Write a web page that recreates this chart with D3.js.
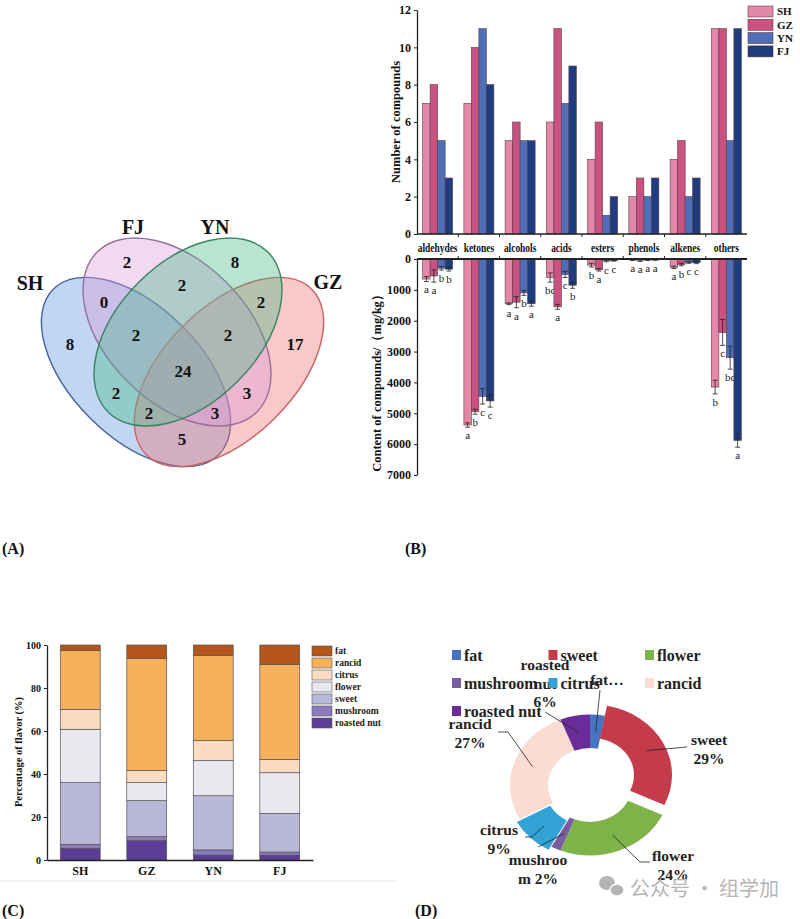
<!DOCTYPE html>
<meta charset="utf-8">
<style>
body { margin: 0; background: #fff; }
svg { display: block; font-family: 'Liberation Serif', 'Times New Roman', serif; }
</style>
<svg width="800" height="919"></svg>
<script src="https://d3js.org/d3.v7.min.js"></script>
<script>
// ---------- data ----------
// (A) venn
var vennSets = ["SH", "FJ", "YN", "GZ"];
var vennRegions = ["SH", "FJ", "YN", "GZ", "SH&FJ", "FJ&YN", "YN&GZ", "SH&FJ&YN", "FJ&YN&GZ",
                   "SH&FJ&YN&GZ", "SH&YN", "FJ&GZ", "SH&YN&GZ", "SH&FJ&GZ", "SH&GZ"];
var vennCounts = [8, 2, 8, 17, 0, 2, 2, 2, 2, 24, 2, 3, 2, 3, 5];

// (B) compound classes
var compoundClasses = ["aldehydes", "ketones", "alcohols", "acids", "esters", "phenols", "alkenes", "others"];
var regions = ["SH", "GZ", "YN", "FJ"];
var countSH = [7, 7, 5, 6, 4, 2, 4, 11];
var countGZ = [8, 10, 6, 11, 6, 3, 5, 11];
var countYN = [5, 11, 5, 7, 1, 2, 2, 5];
var countFJ = [3, 8, 5, 9, 2, 3, 3, 11];
var contentSH = [650, 5380, 1450, 600, 200, 30, 270, 4150];
var contentGZ = [550, 4950, 1400, 1550, 350, 40, 180, 2380];
var contentYN = [300, 4450, 1100, 500, 60, 30, 110, 3200];
var contentFJ = [330, 4600, 1450, 850, 50, 30, 120, 5880];
var errSH = [80, 70, 30, 150, 60, 20, 40, 220];
var errGZ = [200, 80, 180, 80, 40, 40, 40, 420];
var errYN = [60, 250, 80, 100, 30, 20, 30, 370];
var errFJ = [60, 200, 80, 100, 20, 10, 30, 220];
var letterSH = ["a", "a", "a", "bc", "b", "a", "a", "b"];
var letterGZ = ["a", "b", "a", "a", "a", "a", "b", "c"];
var letterYN = ["b", "c", "b", "c", "c", "a", "c", "bc"];
var letterFJ = ["b", "c", "a", "b", "c", "a", "c", "a"];
var countTicks = [0, 2, 4, 6, 8, 10, 12];
var contentTicks = [0, 1000, 2000, 3000, 4000, 5000, 6000, 7000];

// (C) flavour percentages, bottom to top
var flavorSamples = ["SH", "GZ", "YN", "FJ"];
var flavorKeys = ["roasted nut", "mushroom", "sweet", "flower", "citrus", "rancid", "fat"];
var roastedNut = [5.4, 9.0, 2.3, 2.3];
var mushroom = [1.9, 1.9, 2.4, 1.4];
var sweet = [28.7, 16.7, 25.2, 18.0];
var flower = [24.8, 8.4, 16.3, 18.9];
var citrus = [9.2, 5.6, 9.3, 6.2];
var rancid = [27.4, 52.2, 39.7, 44.2];
var fat = [2.6, 6.2, 4.8, 9.0];
var percentTicks = [0, 20, 40, 60, 80, 100];

// (D) donut
var pieLabels = ["fat", "sweet", "flower", "mushroom", "citrus", "rancid", "roasted nut"];
var pieValues = [3, 29, 24, 2, 9, 27, 6];
var pieTexts = [["fat…"], ["sweet", "29%"], ["flower", "24%"], ["mushroo", "m 2%"],
                ["citrus", "9%"], ["rancid", "27%"], ["roasted", "nut", "6%"]];

// ---------- page ----------
var svg = d3.select("svg");
svg.append("rect").attr("width", 800).attr("height", 919).attr("fill", "#fff");

function panelLabel(txt, x, y) {
  svg.append("text").attr("x", x).attr("y", y).attr("font-size", 16)
    .attr("font-weight", "bold").attr("fill", "#111").text(txt);
}
panelLabel("(A)", 2, 554);
panelLabel("(B)", 405, 554);
panelLabel("(C)", 2, 916);
panelLabel("(D)", 415, 916);

// ---------- (A) venn ----------
var vennStyle = {
  SH: { fill: "#5f92e0", stroke: "#44649e", shape: [136, 372, 117, 65, 45],  label: [30, 290] },
  FJ: { fill: "#d99ad9", stroke: "#98709a", shape: [177, 332, 113, 70, 45],  label: [133, 234] },
  YN: { fill: "#46b888", stroke: "#3a8464", shape: [188, 332, 113, 70, -45], label: [215, 234] },
  GZ: { fill: "#ef6e6e", stroke: "#cc6060", shape: [229, 372, 117, 65, -45], label: [328, 289] }
};
var vennLabelPos = [[70, 344], [127, 262], [235, 262], [295, 344], [104, 302], [182, 285], [261, 302],
                    [136, 335], [228, 335], [183, 371], [116, 393], [247, 393], [149, 413], [215, 413], [182, 439]];

var gA = svg.append("g");
gA.selectAll("ellipse")
    .data(["SH", "GZ", "FJ", "YN"])
  .enter().append("ellipse")
    .attr("rx", function(d) { return vennStyle[d].shape[2]; })
    .attr("ry", function(d) { return vennStyle[d].shape[3]; })
    .attr("transform", function(d) {
      var s = vennStyle[d].shape;
      return "translate(" + s[0] + "," + s[1] + ") rotate(" + s[4] + ")";
    })
    .attr("fill", function(d) { return vennStyle[d].fill; })
    .attr("fill-opacity", 0.38)
    .attr("stroke", function(d) { return vennStyle[d].stroke; })
    .attr("stroke-width", 1.4);

gA.selectAll("text.cnt")
    .data(vennCounts)
  .enter().append("text")
    .attr("class", "cnt")
    .attr("x", function(d, i) { return vennLabelPos[i][0]; })
    .attr("y", function(d, i) { return vennLabelPos[i][1]; })
    .attr("dy", "0.35em")
    .attr("text-anchor", "middle")
    .attr("font-size", 17).attr("font-weight", "bold").attr("fill", "#111")
    .text(function(d) { return d; });

gA.selectAll("text.set")
    .data(vennSets)
  .enter().append("text")
    .attr("class", "set")
    .attr("x", function(d) { return vennStyle[d].label[0]; })
    .attr("y", function(d) { return vennStyle[d].label[1]; })
    .attr("text-anchor", "middle")
    .attr("font-size", 20).attr("font-weight", "bold").attr("fill", "#111")
    .text(function(d) { return d; });

// ---------- (B) bars ----------
var countBy = { SH: countSH, GZ: countGZ, YN: countYN, FJ: countFJ };
var contentBy = { SH: contentSH, GZ: contentGZ, YN: contentYN, FJ: contentFJ };
var errBy = { SH: errSH, GZ: errGZ, YN: errYN, FJ: errFJ };
var letterBy = { SH: letterSH, GZ: letterGZ, YN: letterYN, FJ: letterFJ };
var barColor = { SH: "#e488a9", GZ: "#c9527f", YN: "#4e6eb8", FJ: "#1d3d7e" };

var xB = d3.scaleBand().domain(compoundClasses).range([417, 747]);
var xSub = d3.scaleBand().domain(regions).range([0, xB.bandwidth()]).paddingOuter(0.75);
var yTop = d3.scaleLinear().domain([0, 12]).range([234, 10]);
var yBot = d3.scaleLinear().domain([0, 7000]).range([259, 475]);

var gB = svg.append("g");

var topGroups = gB.selectAll("g.top")
    .data(compoundClasses)
  .enter().append("g")
    .attr("class", "top")
    .attr("transform", function(d) { return "translate(" + xB(d) + ",0)"; });

topGroups.selectAll("rect")
    .data(function(c, i) { return regions.map(function(r) { return { r: r, v: countBy[r][i] }; }); })
  .enter().append("rect")
    .attr("x", function(d) { return xSub(d.r); })
    .attr("width", xSub.bandwidth())
    .attr("y", function(d) { return yTop(d.v); })
    .attr("height", function(d) { return yTop(0) - yTop(d.v); })
    .attr("fill", function(d) { return barColor[d.r]; })
    .attr("stroke", "#5a3a4a").attr("stroke-width", 0.6);

var botGroups = gB.selectAll("g.bot")
    .data(compoundClasses)
  .enter().append("g")
    .attr("class", "bot")
    .attr("transform", function(d) { return "translate(" + xB(d) + ",0)"; });

var botItems = botGroups.selectAll("g")
    .data(function(c, i) {
      return regions.map(function(r) {
        return { r: r, v: contentBy[r][i], e: errBy[r][i], l: letterBy[r][i] };
      });
    })
  .enter().append("g");

botItems.append("rect")
    .attr("x", function(d) { return xSub(d.r); })
    .attr("width", xSub.bandwidth())
    .attr("y", yBot(0))
    .attr("height", function(d) { return yBot(d.v) - yBot(0); })
    .attr("fill", function(d) { return barColor[d.r]; })
    .attr("stroke", "#5a3a4a").attr("stroke-width", 0.6);

botItems.append("path")
    .attr("d", function(d) {
      var cx = xSub(d.r) + xSub.bandwidth() / 2,
          y1 = yBot(Math.max(d.v - d.e, 0)), y2 = yBot(d.v + d.e);
      return "M" + cx + "," + y1 + "V" + y2 +
             "M" + (cx - 2.5) + "," + y1 + "h5" +
             "M" + (cx - 2.5) + "," + y2 + "h5";
    })
    .attr("stroke", "#222").attr("stroke-width", 0.8).attr("fill", "none");

botItems.append("text")
    .attr("x", function(d) { return xSub(d.r) + xSub.bandwidth() / 2; })
    .attr("y", function(d) { return yBot(d.v + d.e) + 8; })
    .attr("dy", "0.35em")
    .attr("text-anchor", "middle")
    .attr("font-size", 11).attr("fill", "#222")
    .text(function(d) { return d.l; });

function styleAxis(g, size) {
  g.attr("font-family", null).attr("font-size", null);
  g.selectAll("text").attr("font-size", size).attr("font-weight", "bold").attr("fill", "#111");
  g.selectAll("path.domain").attr("stroke", "#222").attr("stroke-width", 1.3);
  g.selectAll("line").attr("stroke", "#222");
}

gB.append("g").attr("transform", "translate(417,0)")
  .call(d3.axisLeft(yTop).tickValues(countTicks).tickSize(3).tickPadding(3).tickSizeOuter(0))
  .call(styleAxis, 12);
gB.append("g").attr("transform", "translate(417,0)")
  .call(d3.axisLeft(yBot).tickValues(contentTicks).tickFormat(d3.format("d"))
          .tickSize(3).tickPadding(3).tickSizeOuter(0))
  .call(styleAxis, 12);

// horizontal base lines with group-boundary ticks
[[234, 1], [259, -1]].forEach(function(p) {
  gB.append("line").attr("x1", 417).attr("x2", 747).attr("y1", p[0]).attr("y2", p[0])
    .attr("stroke", "#222").attr("stroke-width", p[1] > 0 ? 1.3 : 2);
  gB.selectAll(null)
      .data(compoundClasses.slice(1))
    .enter().append("line")
      .attr("x1", function(d) { return xB(d); })
      .attr("x2", function(d) { return xB(d); })
      .attr("y1", p[0]).attr("y2", p[0] + 3 * p[1])
      .attr("stroke", "#222");
});

gB.selectAll("text.cat")
    .data(compoundClasses)
  .enter().append("text")
    .attr("class", "cat")
    .attr("x", function(d) { return xB(d) + xB.bandwidth() / 2; })
    .attr("y", 252)
    .attr("text-anchor", "middle")
    .attr("font-size", 11.5).attr("font-weight", "bold").attr("fill", "#111")
    .text(function(d) { return d; })
    .each(function() {
      // the source typesetting is condensed
      var w = this.getComputedTextLength();
      d3.select(this).attr("textLength", w * 0.82).attr("lengthAdjust", "spacingAndGlyphs");
    });

gB.append("text")
    .attr("transform", "translate(400,122) rotate(-90)")
    .attr("text-anchor", "middle")
    .attr("font-size", 12.5).attr("font-weight", "bold").attr("fill", "#111")
    .text("Number of compounds");
gB.append("text")
    .attr("transform", "translate(381,380) rotate(-90)")
    .attr("text-anchor", "middle")
    .attr("font-size", 12.5).attr("font-weight", "bold").attr("fill", "#111")
    .text("Content of compounds/（mg/kg）");

var legB = gB.selectAll("g.leg")
    .data(regions)
  .enter().append("g")
    .attr("class", "leg")
    .attr("transform", function(d, i) { return "translate(748," + (6 + i * 13.3) + ")"; });
legB.append("rect").attr("width", 25).attr("height", 11)
    .attr("fill", function(d) { return barColor[d]; })
    .attr("stroke", "#5a3a4a").attr("stroke-width", 0.6);
legB.append("text").attr("x", 29).attr("y", 5.5).attr("dy", "0.35em")
    .attr("font-size", 11).attr("font-weight", "bold").attr("fill", "#111")
    .text(function(d) { return d; });

// ---------- (C) stacked bars ----------
var flavorBy = { "roasted nut": roastedNut, mushroom: mushroom, sweet: sweet, flower: flower,
                 citrus: citrus, rancid: rancid, fat: fat };
var flavorColor = { "roasted nut": "#5b3d98", mushroom: "#8a7cbc", sweet: "#b9b8d9", flower: "#e9e8ef",
                    citrus: "#fbdcc0", rancid: "#f6b05c", fat: "#b4561c" };
var flavorTable = flavorSamples.map(function(s, i) {
  var row = { sample: s };
  flavorKeys.forEach(function(k) { row[k] = flavorBy[k][i]; });
  return row;
});
var stackC = d3.stack().keys(flavorKeys)(flavorTable);

var xC = d3.scaleBand().domain(flavorSamples).range([47, 313]).paddingInner(0.4).paddingOuter(0.2);
var yC = d3.scaleLinear().domain([0, 100]).range([860, 645]);

var gC = svg.append("g");
gC.selectAll("g.layer")
    .data(stackC)
  .enter().append("g")
    .attr("class", "layer")
    .attr("fill", function(d) { return flavorColor[d.key]; })
  .selectAll("rect")
    .data(function(d) { return d; })
  .enter().append("rect")
    .attr("x", function(d) { return xC(d.data.sample); })
    .attr("width", xC.bandwidth())
    .attr("y", function(d) { return yC(d[1]); })
    .attr("height", function(d) { return yC(d[0]) - yC(d[1]); })
    .attr("stroke", "#555").attr("stroke-width", 0.7);

gC.append("g").attr("transform", "translate(47,0)")
  .call(d3.axisLeft(yC).tickValues(percentTicks).tickSize(3).tickPadding(3).tickSizeOuter(0))
  .call(styleAxis, 10);
gC.append("g").attr("transform", "translate(0,860)")
  .call(d3.axisBottom(xC).tickSize(0).tickPadding(6).tickSizeOuter(0))
  .call(styleAxis, 12);

gC.append("text")
    .attr("transform", "translate(22,752) rotate(-90)")
    .attr("text-anchor", "middle")
    .attr("font-size", 10.5).attr("font-weight", "bold").attr("fill", "#111")
    .text("Percentage of flavor (%)");

var legC = gC.selectAll("g.leg")
    .data(flavorKeys.slice().reverse())
  .enter().append("g")
    .attr("class", "leg")
    .attr("transform", function(d, i) { return "translate(312," + (646 + i * 12) + ")"; });
legC.append("rect").attr("width", 20).attr("height", 10)
    .attr("fill", function(d) { return flavorColor[d]; })
    .attr("stroke", "#555").attr("stroke-width", 0.6);
legC.append("text").attr("x", 23).attr("y", 5).attr("dy", "0.35em")
    .attr("font-size", 9.5).attr("font-weight", "bold").attr("fill", "#222")
    .text(function(d) { return d; });

gC.append("line").attr("x1", 0).attr("x2", 395).attr("y1", 881).attr("y2", 881)
    .attr("stroke", "#e4e4e4");

// ---------- (D) donut ----------
var pieColor = { fat: "#4673c2", sweet: "#c43b4c", flower: "#7db348", mushroom: "#7a5da0",
                 citrus: "#33a2d4", rancid: "#fadcd2", "roasted nut": "#6a2c98" };
var pieCenter = [590, 785];
var squash = 0.88;                    // the source donut is slightly flattened
// per-slice screen offset (exploded slices)
var sliceShift = [[0, 0], [2, -10], [0, 0], [0, 0], [-3, 3], [0, 0], [0, 0]];
// first-line baseline of each label, leader elbow and end, relative to the centre
var pieLabelPos = [[17, -100], [119, -40], [83, 76], [-52, 80], [-91, 50], [-120, -56], [-45, -115]];
var pieLeader = [
  [[10, -95]],
  [[97, -38]],
  [[50, 77], [60, 77]],
  [[-52, 62]],
  [[-58, 52], [-65, 52]],
  [[-82, -53], [-92, -53]],
  [[-45, -73]]
];

var arcD = d3.arc().innerRadius(42).outerRadius(80);
var midArc = d3.arc().innerRadius(60).outerRadius(62);
var pieData = d3.pie().sort(null).value(function(d) { return d; })(pieValues);

var gD = svg.append("g").attr("transform", "translate(" + pieCenter[0] + "," + pieCenter[1] + ")");

gD.selectAll("path.slice")
    .data(pieData)
  .enter().append("path")
    .attr("class", "slice")
    .attr("d", arcD)
    .attr("transform", function(d, i) {
      return "translate(" + sliceShift[i][0] + "," + sliceShift[i][1] + ") scale(1," + squash + ")";
    })
    .attr("fill", function(d, i) { return pieColor[pieLabels[i]]; });

gD.selectAll("path.leader")
    .data(pieData)
  .enter().append("path")
    .attr("class", "leader")
    .attr("d", function(d, i) {
      var c = midArc.centroid(d);
      var start = [c[0] + sliceShift[i][0], c[1] * squash + sliceShift[i][1]];
      return d3.line()([start].concat(pieLeader[i]));
    })
    .attr("fill", "none").attr("stroke", "#222").attr("stroke-width", 0.8);

var lblD = gD.selectAll("text.lbl")
    .data(pieData)
  .enter().append("text")
    .attr("class", "lbl")
    .attr("text-anchor", "middle")
    .attr("font-size", 15.5).attr("font-weight", "bold").attr("fill", "#222");
lblD.selectAll("tspan")
    .data(function(d, i) {
      return pieTexts[i].map(function(t) { return { t: t, p: pieLabelPos[i] }; });
    })
  .enter().append("tspan")
    .attr("x", function(d) { return d.p[0]; })
    .attr("y", function(d, j) { return d.p[1] + j * 18.5; })
    .text(function(d) { return d.t; });

var legD = svg.selectAll("g.legD")
    .data(pieLabels)
  .enter().append("g")
    .attr("class", "legD")
    .attr("transform", function(d, i) {
      return "translate(" + (452 + (i % 3) * 96.5) + "," + (655 + Math.floor(i / 3) * 28) + ")";
    });
legD.append("rect").attr("x", 0).attr("y", -5).attr("width", 9).attr("height", 10)
    .attr("fill", function(d) { return pieColor[d]; });
legD.append("text").attr("x", 12).attr("dy", "0.35em")
    .attr("font-size", 16).attr("font-weight", "bold").attr("fill", "#222")
    .text(function(d) { return d; });

// watermark
var wm = svg.append("g").attr("fill", "#b4b4b4");
wm.append("ellipse").attr("cx", 607).attr("cy", 883).attr("rx", 8).attr("ry", 7);
wm.append("ellipse").attr("cx", 617).attr("cy", 890).attr("rx", 7).attr("ry", 6).attr("stroke", "#fff").attr("stroke-width", 1.5);
wm.append("text").attr("x", 630).attr("y", 896)
    .attr("font-family", "'Noto Sans CJK SC', sans-serif").attr("font-size", 20)
    .text("公众号 · 组学加");
</script>
